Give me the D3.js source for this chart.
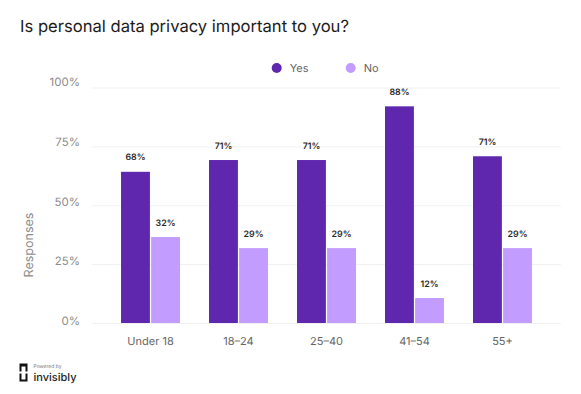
<!DOCTYPE html>
<html>
<head>
<meta charset="utf-8">
<script src="https://cdn.jsdelivr.net/npm/d3@7"></script>
<style>
  html, body { margin: 0; padding: 0; background: #fff; }
  text { font-family: Inter, "Noto Sans", sans-serif; text-rendering: geometricPrecision; }
</style>
</head>
<body>
<div id="chart"></div>
<script>
const categories = ["Under 18", "18–24", "25–40", "41–54", "55+"];
const seriesNames = ["Yes", "No"];
// bar heights in the picture do not agree with the printed labels, so both are kept
const yesHeights = [64.2, 69.2, 69.2, 92, 70.8];
const noHeights = [36.5, 31.8, 31.8, 10.6, 31.8];
const yesLabels = ["68%", "71%", "71%", "88%", "71%"];
const noLabels = ["32%", "29%", "29%", "12%", "29%"];
const yTicks = [0, 25, 50, 75, 100];
const colors = ["#5f27ae", "#c29dff"];

const width = 581;
const height = 394;

const svg = d3.select("#chart")
  .append("svg")
  .attr("width", width)
  .attr("height", height)
  .style("display", "block");

svg.append("text")
  .attr("x", 20)
  .attr("y", 32)
  .attr("fill", "#1c1c1c")
  .style("font-size", "16.6px")
  .text("Is personal data privacy important to you?");

// Scales
const x = d3.scaleBand()
  .domain(categories)
  .range([92, 561])
  .padding(0.33);

const xInner = d3.scaleBand()
  .domain(seriesNames)
  .range([0, x.bandwidth()])
  .paddingInner(0.04);

const y = d3.scaleLinear()
  .domain([0, 100])
  .range([323, 87.5]);

// y labels sit a little off their gridlines, more so towards the top
const yLabel = d3.scaleLinear()
  .domain([0, 100])
  .range([320.7, 82.3]);

// Gridlines
const grid = svg.append("g")
  .attr("transform", "translate(92,0)")
  .call(d3.axisLeft(y)
    .tickValues(yTicks)
    .tickSize(-469)
    .tickFormat(""));
grid.select(".domain").remove();
grid.selectAll("line").attr("stroke", "#f1f1f3");

const yAxis = svg.append("g")
  .attr("transform", "translate(80,0)")
  .call(d3.axisLeft(yLabel)
    .tickValues(yTicks)
    .tickSize(0)
    .tickPadding(0)
    .tickFormat(d => d + "%"));
yAxis.select(".domain").remove();
yAxis.selectAll("text")
  .attr("fill", "#8c8c8c")
  .style("font-size", "11.5px");

// x labels
const xAxis = svg.append("g")
  .attr("transform", "translate(0,323)")
  .call(d3.axisBottom(x).tickSize(0).tickPadding(14));
xAxis.select(".domain").remove();
xAxis.selectAll("text")
  .attr("fill", "#666")
  .style("font-size", "11px");

svg.append("text")
  .attr("transform", "translate(33,245) rotate(-90)")
  .attr("text-anchor", "middle")
  .attr("fill", "#8c8c8c")
  .style("font-size", "12.5px")
  .text("Responses");

// Bars and labels
const rows = categories.map((c, i) => ({
  cat: c,
  values: [
    { name: "Yes", h: yesHeights[i], label: yesLabels[i] },
    { name: "No", h: noHeights[i], label: noLabels[i] }
  ]
}));

const groups = svg.selectAll(".group")
  .data(rows)
  .join("g")
  .attr("class", "group")
  .attr("transform", d => `translate(${x(d.cat)},0)`);

groups.selectAll("rect")
  .data(d => d.values)
  .join("rect")
  .attr("x", d => xInner(d.name))
  .attr("y", d => y(d.h))
  .attr("width", xInner.bandwidth())
  .attr("height", d => y(0) - y(d.h))
  .attr("fill", (d, i) => colors[i]);

groups.selectAll(".val")
  .data(d => d.values)
  .join("text")
  .attr("class", "val")
  .attr("x", d => xInner(d.name) + xInner.bandwidth() / 2)
  .attr("y", d => y(d.h) - 11.5)
  .attr("text-anchor", "middle")
  .attr("fill", "#2a2a2a")
  .style("font-size", "8.8px")
  .style("font-weight", 600)
  .text(d => d.label);

// Legend
const legendX = d3.scaleOrdinal().domain(seriesNames).range([276.7, 350.7]);
const legend = svg.selectAll(".legend")
  .data(seriesNames)
  .join("g")
  .attr("class", "legend")
  .attr("transform", d => `translate(${legendX(d)},68)`);
legend.append("circle")
  .attr("r", 5)
  .attr("fill", (d, i) => colors[i]);
legend.append("text")
  .attr("x", 13)
  .attr("dy", "0.35em")
  .attr("fill", "#666")
  .style("font-size", "11px")
  .text(d => d);

// Logo
const logo = svg.append("g").attr("transform", "translate(19.5,363.5)");
logo.append("path")
  .attr("d", "M0 0H8V8H6V3H2V8H0Z M0 10H2V16H6V10H8V18H0Z")
  .attr("fill", "#111");
logo.append("text")
  .attr("x", 14)
  .attr("y", 4.5)
  .attr("fill", "#777")
  .style("font-size", "5px")
  .text("Powered by");
logo.append("text")
  .attr("x", 14)
  .attr("y", 17.5)
  .attr("fill", "#222")
  .style("font-size", "11px")
  .style("font-weight", 500)
  .text("invisibly");
</script>
</body>
</html>
